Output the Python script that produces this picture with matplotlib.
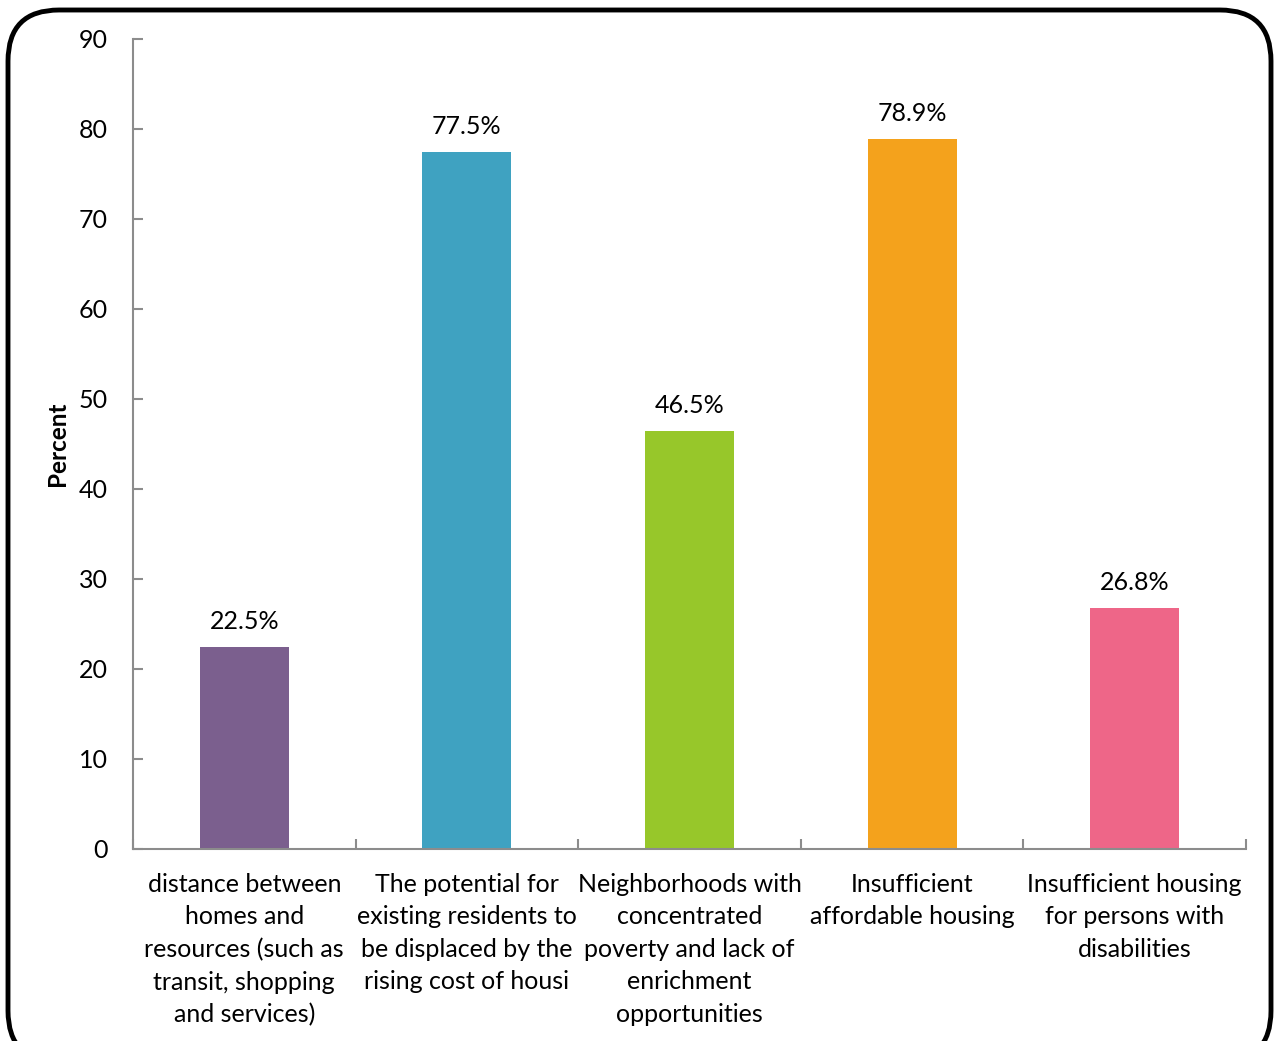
import matplotlib.pyplot as plt
from matplotlib.patches import FancyBboxPatch
import numpy as np

plt.rcParams['font.family'] = ['Lato', 'DejaVu Sans']

categories = [
    'distance between\nhomes and\nresources (such as\ntransit, shopping\nand services)',
    'The potential for\nexisting residents to\nbe displaced by the\nrising cost of housi',
    'Neighborhoods with\nconcentrated\npoverty and lack of\nenrichment\nopportunities',
    'Insufficient\naffordable housing',
    'Insufficient housing\nfor persons with\ndisabilities',
]
percent = [22.5, 77.5, 46.5, 78.9, 26.8]
colors = ['#7B5F8E', '#3FA2C1', '#97C72A', '#F4A21C', '#EE6688']
yticks = [0, 10, 20, 30, 40, 50, 60, 70, 80, 90]

fig = plt.figure(figsize=(12.76, 10.41), dpi=100)
ax = fig.add_axes([133 / 1276, 1 - 849 / 1041, (1246 - 133) / 1276, (849 - 39) / 1041])

x = np.arange(len(percent))
bars = ax.bar(x, percent, width=0.4, color=colors)
for b, v in zip(bars, percent):
    ax.annotate(f'{v}%', (b.get_x() + b.get_width() / 2, v), xytext=(0, 10),
                textcoords='offset points', ha='center', va='bottom', fontsize=18)

ax.set_xlim(-0.5, len(percent) - 0.5)
ax.set_ylim(0, 90)
ax.set_yticks(yticks)
ax.set_xticks(x)
ax.set_xticklabels(categories, fontsize=18, linespacing=1.5, va='top')
ax.set_xticks(np.arange(len(percent) + 1) - 0.5, minor=True)
ax.tick_params(axis='x', which='major', length=0, pad=17)
ax.tick_params(axis='x', which='minor', direction='in', length=7, color='#8C8C8C', width=1.5)
ax.tick_params(axis='y', direction='in', length=7, color='#8C8C8C', width=1.5, labelsize=18, pad=18)
for s in ['top', 'right']:
    ax.spines[s].set_visible(False)
for s in ['left', 'bottom']:
    ax.spines[s].set_color('#8C8C8C')
    ax.spines[s].set_linewidth(1.5)
ax.set_ylabel('Percent', fontsize=17.5, fontweight='bold', labelpad=7)

# rounded frame around the whole chart
frame = FancyBboxPatch((8 / 1276, -0.02), 1263 / 1276, 1 - 10 / 1041 + 0.02,
                       boxstyle='round,pad=0,rounding_size=0.04',
                       transform=fig.transFigure, fill=False, edgecolor='black',
                       linewidth=3.5, mutation_aspect=1276 / 1041)
fig.patches.append(frame)

fig.savefig('out.png', dpi=100)
